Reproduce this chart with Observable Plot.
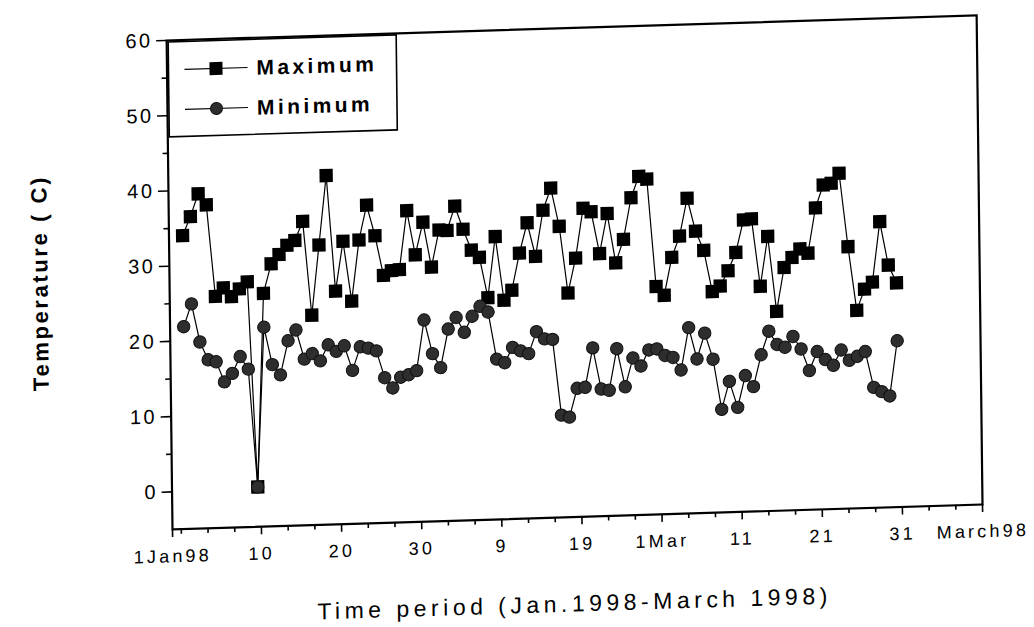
<!DOCTYPE html>
<html><head><meta charset="utf-8">
<script src="https://cdn.jsdelivr.net/npm/d3@7"></script>
<script src="https://cdn.jsdelivr.net/npm/@observablehq/plot@0.6"></script>
<style>
html,body{margin:0;padding:0;background:#fff;overflow:hidden;}
#wrap{position:absolute;left:0;top:0;width:1034px;height:627px;transform-origin:172px 529px;transform:matrix(1,-0.0309,0.012,1,0,0);}
#wrap svg{overflow:visible;}
</style></head><body><div id="wrap"></div>
<script>
// Daily temperatures, 1 Jan 1998 .. 31 Mar 1998 (day 1..90)
const maxTemp = [34.0,36.5,39.5,38.0,25.8,26.9,25.7,26.7,27.6,0.3,
  26.0,29.9,31.1,32.3,32.9,35.4,22.9,32.2,41.4,26.0,
  32.6,24.6,32.7,37.3,33.2,27.9,28.5,28.6,36.4,30.5,
  34.8,28.8,33.7,33.6,36.8,33.7,30.9,29.9,24.5,32.6,
  24.1,25.4,30.3,34.3,29.8,35.9,38.8,33.7,24.8,29.4,
  36.0,35.5,29.9,35.2,28.6,31.7,37.2,40.0,39.6,25.3,
  24.1,29.1,31.9,36.9,32.5,29.9,24.4,25.1,27.1,29.5,
  33.8,33.9,24.9,31.5,21.5,27.3,28.6,29.7,29.1,35.1,
  38.1,38.3,39.6,29.8,21.3,24.1,25.0,33.0,27.2,24.8];
const minTemp = [21.9,24.9,19.8,17.4,17.1,14.4,15.5,17.7,16.0,0.3,
  21.5,16.5,15.1,19.6,21.0,17.1,17.8,16.8,18.9,18.0,
  18.7,15.4,18.5,18.3,17.9,14.3,12.9,14.3,14.6,15.1,
  21.8,17.3,15.4,20.5,22.0,20.0,22.1,23.4,22.6,16.3,
  15.8,17.8,17.3,16.9,19.8,18.8,18.7,8.6,8.3,12.1,
  12.2,17.4,11.9,11.7,17.2,12.1,15.9,14.8,16.9,17.0,
  16.1,15.8,14.1,19.7,15.5,18.9,15.4,8.7,12.4,8.9,
  13.1,11.6,15.8,18.9,17.1,16.7,18.1,16.4,13.5,16.0,
  14.9,14.1,16.1,14.7,15.2,15.8,11.0,10.4,9.8,17.1];
const dayNumbers = d3.range(1, maxTemp.length + 1);
const seriesNames = ["Maximum", "Minimum"];

const xTickValues = [-1.1, 10, 20, 30, 40, 50, 60, 70, 80, 90, 100];
const xTickLabels = ["1Jan98","10","20","30","9","19","1Mar","11","21","31","March98"];
const xMinorTicks = d3.range(0, 100, 10/3).filter(v => Math.abs(v/10 - Math.round(v/10)) > 0.01 || v < 1);
const yTickValues = [0, 10, 20, 30, 40, 50, 60];
const yMinorTicks = [5, 15, 25, 35, 45, 55];
const xTitle = "Time period (Jan.1998-March 1998)";
const yTitle = "Temperature ( C)";

const rows = dayNumbers.map((d, i) => ({day: d, max: maxTemp[i], min: minTemp[i]}));
const xLabelMap = new Map(xTickValues.map((v, i) => [v, xTickLabels[i]]));
const xPos = d => d.day - 0.4;
const FONT = "'Liberation Sans', Arial, Helvetica, sans-serif";

const chart = Plot.plot({
  width: 1034, height: 627,
  marginLeft: 172, marginRight: 52, marginTop: 40, marginBottom: 98,
  x: {domain: [-1.1, 100], label: null},
  y: {domain: [-5, 60], label: null},
  style: {fontFamily: FONT, color: "#000", background: "transparent", overflow: "visible"},
  marks: [
    Plot.axisY(yTickValues, {tickSize: 10, tickPadding: 4, fontSize: 20, strokeWidth: 1.6, label: null}),
    Plot.axisY(yMinorTicks, {tickSize: 5, strokeWidth: 1.6, tickFormat: () => "", label: null}),
    Plot.axisX(xTickValues, {tickSize: 8, tickPadding: 12, fontSize: 18, strokeWidth: 1.6, tickFormat: d => xLabelMap.get(d), label: null}),
    Plot.axisX(xMinorTicks, {tickSize: 5, strokeWidth: 1.6, tickFormat: () => "", label: null}),
    Plot.line(rows, {x: xPos, y: "max", stroke: "#000", strokeWidth: 1.2}),
    Plot.dot(rows, {x: xPos, y: "max", symbol: "square", r: 7.5, fill: "#000", stroke: "none"}),
    Plot.line(rows, {x: xPos, y: "min", stroke: "#000", strokeWidth: 1.2}),
    Plot.dot(rows, {x: xPos, y: "min", r: 6.2, fill: "#2e2e2e", stroke: "#111", strokeWidth: 1}),
    Plot.frame({stroke: "#000", strokeWidth: 2.2}),
    Plot.text([yTitle], {frameAnchor: "left", textAnchor: "middle", lineAnchor: "middle", dx: -129, dy: -6, rotate: -90, fontSize: 22, fontWeight: "bold", fill: "#000"}),
    Plot.text([xTitle], {frameAnchor: "bottom", textAnchor: "middle", lineAnchor: "middle", dx: -4, dy: 87, fontSize: 23, fill: "#000"})
  ]
});
document.getElementById("wrap").appendChild(chart);

const svg = d3.select(chart);
svg.selectAll('g[aria-label="y-axis tick label"]').style("font-size", "20px");
svg.selectAll('g[aria-label="y-axis tick label"] text').style("letter-spacing", "2.5px");
svg.selectAll('g[aria-label="x-axis tick label"]').style("font-size", "18px");
svg.selectAll('g[aria-label="x-axis tick label"] text').style("letter-spacing", "3.2px");
svg.selectAll("text").filter(function(){ return this.textContent === xTitle; }).style("letter-spacing", "4.5px");
svg.selectAll("text").filter(function(){ return this.textContent === yTitle; }).style("letter-spacing", "2.6px");

// legend
const lg = svg.append("g").attr("font-family", FONT).attr("text-anchor", "start");
lg.append("rect").attr("x", 174).attr("y", 42).attr("width", 228).attr("height", 95)
  .attr("fill", "#fff").attr("stroke", "#000").attr("stroke-width", 1.6);
seriesNames.forEach((name, i) => {
  const cy = 70 + i * 40;
  lg.append("line").attr("x1", 190).attr("x2", 253).attr("y1", cy).attr("y2", cy)
    .attr("stroke", "#000").attr("stroke-width", 1.2);
  if (i === 0) {
    lg.append("rect").attr("x", 221.5 - 6.5).attr("y", cy - 6.5).attr("width", 13).attr("height", 13).attr("fill", "#000");
  } else {
    lg.append("circle").attr("cx", 221.5).attr("cy", cy).attr("r", 6).attr("fill", "#2e2e2e").attr("stroke", "#111");
  }
  lg.append("text").attr("x", 262).attr("y", cy).attr("dy", "0.36em")
    .attr("font-size", 21).attr("font-weight", "bold").attr("fill", "#000")
    .style("letter-spacing", "3.4px").text(name);
});
</script>
</body></html>
